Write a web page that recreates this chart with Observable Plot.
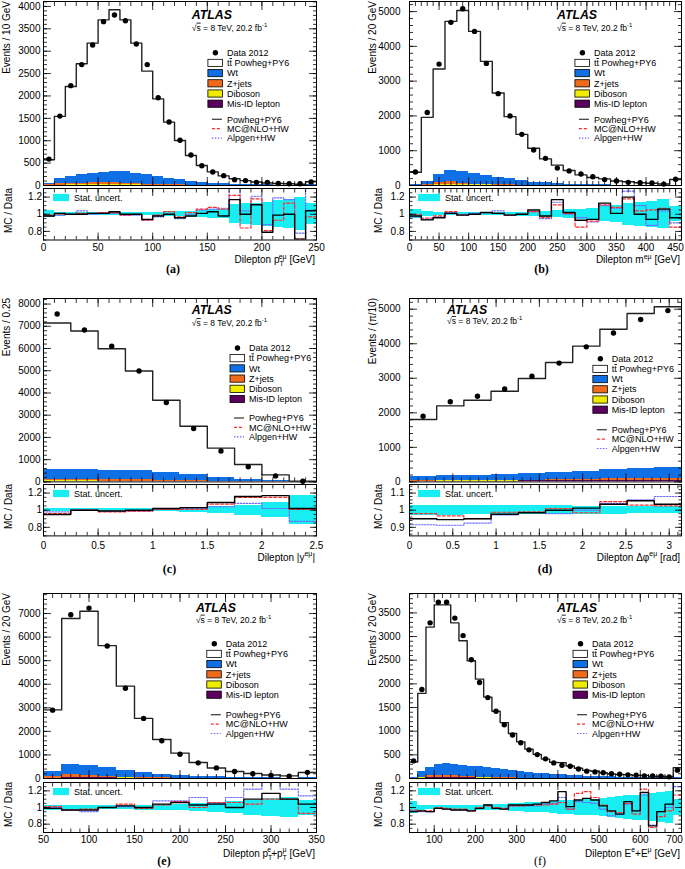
<!DOCTYPE html>
<html><head><meta charset="utf-8">
<script src="https://cdn.jsdelivr.net/npm/d3@7"></script>
<script src="https://cdn.jsdelivr.net/npm/@observablehq/plot@0.6"></script>
<style>
html,body{margin:0;padding:0;background:#fff;}
#root{position:relative;width:685px;height:869px;overflow:hidden;background:#fff;}
</style></head><body><div id="root"></div>
<script>
// ---------- Panel (a): dilepton pT ----------
const aEdges = [0,10,20,30,40,50,60,70,80,90,100,110,120,130,140,150,160,170,180,190,200,210,220,230,240,250];
const aData = [590,1550,2230,2700,3140,3660,3810,3680,3160,2700,1960,1420,1010,680,440,300,220,130,110,70,70,45,40,40,80];
const aMC = [575,1545,2210,2720,3180,3700,3925,3700,3180,2555,1935,1415,1005,670,447,305,215,152,110,78,55,45,40,28,85];
const aWt = [40,115,150,185,210,240,265,260,240,215,185,150,115,90,65,48,36,28,20,15,12,9,7,6,12];
const aZjets = [10,25,35,40,45,45,40,35,25,18,12,8,5,4,3,2,1,1,1,1,0,0,0,0,0];
const aDiboson = [2,4,5,6,6,6,6,5,5,4,4,3,3,2,2,1,1,1,1,1,1,0,0,0,1];
const aMisID = [3,6,8,9,10,10,10,9,8,7,6,5,4,3,2,2,1,1,1,1,0,0,0,0,1];
const aRatioPowheg = [0.98,1.01,1.0,1.0,1.01,1.01,1.03,1.0,1.0,0.94,0.98,1.0,0.96,0.98,1.01,1.03,0.98,1.17,1.0,1.11,0.79,0.99,1.0,0.71,1.04];
const aRatioMCNLO = [0.99,1.0,1.0,1.01,1.01,1.02,1.02,0.99,1.0,0.93,0.99,1.03,0.97,1.02,1.06,1.08,1.06,1.22,0.84,1.18,0.81,0.93,1.13,0.71,0.97];
const aRatioAlpgen = [0.98,0.99,1.0,1.04,1.0,1.02,1.01,0.99,0.99,0.93,0.97,1.0,0.95,1.0,1.05,1.06,1.07,1.3,1.04,1.21,0.88,1.19,1.17,0.78,1.32];
const aStat = [0.04,0.025,0.02,0.02,0.02,0.02,0.02,0.02,0.02,0.02,0.025,0.03,0.03,0.035,0.04,0.05,0.055,0.11,0.12,0.13,0.14,0.16,0.17,0.19,0.12];
const aXTicks = [0,50,100,150,200,250];
const aYTicks = [0,500,1000,1500,2000,2500,3000,3500,4000];

// ---------- Panel (b): dilepton mass ----------
const bEdges = [0,20,40,60,80,100,120,140,160,180,200,220,240,260,280,300,320,340,360,380,400,420,440,460];
const bData = [390,2100,3490,4690,5080,4430,3510,2640,2000,1470,1020,780,500,420,330,250,170,130,90,80,70,40,180];
const bMC = [380,1960,3350,4720,5030,4430,3570,2660,1980,1470,1070,765,585,430,305,230,190,130,108,80,66,42,173];
const bWt = [15,90,250,330,320,300,270,220,170,125,90,65,50,35,25,20,15,10,8,6,5,4,12];
const bZjets = [5,25,60,95,50,25,15,10,8,5,3,2,2,1,1,1,0,0,0,0,0,0,0];
const bDiboson = [1,3,5,6,6,5,5,4,3,3,2,2,1,1,1,1,1,0,0,0,0,0,1];
const bMisID = [2,8,12,14,13,12,10,8,6,5,4,3,2,2,1,1,1,1,0,0,0,0,1];
const bRatioPowheg = [0.98,0.935,0.96,1.01,0.99,1.0,1.02,1.01,0.99,1.0,1.05,0.98,1.17,1.02,0.93,0.94,1.13,1.01,1.2,1.0,0.94,1.06,0.96];
const bRatioMCNLO = [1.0,0.955,0.98,1.03,0.99,1.0,1.02,1.01,0.99,1.0,1.03,0.96,1.11,1.01,0.85,0.92,1.11,1.08,1.18,1.04,1.05,1.07,0.85];
const bRatioAlpgen = [0.97,0.94,0.97,1.02,1.0,1.01,1.02,1.04,0.99,1.0,1.03,0.95,1.14,1.0,0.96,0.91,1.1,1.07,1.27,1.1,0.87,1.04,0.9];
const bStat = [0.05,0.03,0.02,0.02,0.02,0.02,0.02,0.02,0.02,0.025,0.03,0.035,0.04,0.05,0.06,0.07,0.09,0.1,0.13,0.14,0.15,0.17,0.09];
const bXTicks = [0,50,100,150,200,250,300,350,400,450];
const bYTicks = [0,1000,2000,3000,4000,5000];

// ---------- Panel (c): dilepton |y| ----------
const cEdges = [0,0.25,0.5,0.75,1,1.25,1.5,1.75,2,2.25,2.5];
const cData = [7550,6830,6100,4990,3570,2400,1390,680,270,30];
const cMC = [7150,6790,5990,4990,3670,2500,1520,780,315,30];
const cWt = [480,470,440,400,340,280,190,110,50,5];
const cZjets = [45,45,50,55,40,25,15,10,5,0];
const cDiboson = [10,10,9,8,7,5,4,2,1,0];
const cMisID = [35,33,30,27,22,17,11,6,2,0];
const cRatioPowheg = [0.95,1.0,0.99,1.0,1.02,1.03,1.09,1.16,1.17,1.02];
const cRatioMCNLO = [0.96,1.0,0.98,0.99,1.01,1.01,1.07,1.15,1.15,1.01];
const cRatioAlpgen = [0.98,1.0,0.99,0.99,1.01,1.02,1.04,1.08,1.02,0.87];
const cStat = [0.02,0.02,0.02,0.02,0.02,0.025,0.04,0.06,0.09,0.17];
const cXTicks = [0,0.5,1,1.5,2,2.5];
const cYTicks = [0,1000,2000,3000,4000,5000,6000,7000,8000];

// ---------- Panel (d): dilepton delta phi ----------
const dEdges = [0,0.314,0.628,0.942,1.257,1.571,1.885,2.199,2.513,2.827,3.142];
const dData = [1900,2320,2480,2690,3060,3440,3910,4310,4700,4960];
const dMC = [1805,2200,2365,2625,2995,3455,3930,4420,4875,5070];
const dWt = [120,135,145,160,180,205,235,265,295,300];
const dZjets = [15,15,15,18,20,25,30,40,50,55];
const dDiboson = [5,5,6,6,7,8,9,10,11,12];
const dMisID = [20,22,24,25,27,30,32,34,36,38];
const dRatioPowheg = [0.95,0.945,0.95,0.976,0.985,1.0,1.012,1.035,1.055,1.035];
const dRatioMCNLO = [0.98,0.967,0.95,0.988,0.99,1.01,0.985,1.05,1.03,1.025];
const dRatioAlpgen = [0.915,0.912,0.925,0.972,0.985,0.98,1.0,1.04,1.06,1.08];
const dStat = [0.03,0.029,0.028,0.027,0.026,0.025,0.024,0.023,0.022,0.021];
const dXTicks = [0,0.5,1,1.5,2,2.5,3];
const dYTicks = [0,1000,2000,3000,4000,5000];

// ---------- Panel (e): pT(e)+pT(mu) ----------
const eEdges = [50,70,90,110,130,150,170,190,210,230,250,270,290,310,330,350];
const eData = [2900,6950,7230,5620,3830,2550,1600,1030,665,450,300,200,130,100,260];
const eMC = [2910,6790,7100,5640,3920,2550,1655,1075,680,445,295,215,150,110,255];
const eWt = [180,410,430,390,300,225,160,125,90,62,42,30,22,15,25];
const eZjets = [80,150,90,45,25,12,8,5,3,2,1,1,0,0,0];
const eDiboson = [5,10,10,8,6,5,4,3,2,2,1,1,1,0,1];
const eMisID = [15,30,30,25,20,14,10,7,4,3,2,1,1,1,2];
const eRatioPowheg = [0.99,0.97,0.97,1.0,1.02,1.0,1.04,1.06,1.03,1.04,1.0,1.1,1.17,1.1,1.04];
const eRatioMCNLO = [1.01,0.97,0.98,1.0,1.04,0.99,1.03,1.07,1.0,1.06,1.06,1.04,1.1,1.1,0.93];
const eRatioAlpgen = [1.0,0.97,0.95,1.0,1.01,1.0,1.08,1.08,1.12,1.05,1.12,1.22,1.31,1.22,1.14];
const eStat = [0.03,0.02,0.02,0.02,0.025,0.03,0.035,0.04,0.05,0.06,0.07,0.09,0.11,0.12,0.09];
const eXTicks = [50,100,150,200,250,300,350];
const eYTicks = [0,1000,2000,3000,4000,5000,6000,7000];

// ---------- Panel (f): E(e)+E(mu) ----------
const fEdges = [40,60,80,100,120,140,160,180,200,220,240,260,280,300,320,340,360,380,400,420,440,460,480,500,520,540,560,580,600,620,640,660,680,700];
const fData = [373,1880,3290,3725,3725,3390,3020,2510,2030,1710,1420,1135,920,755,605,505,415,330,280,260,200,155,140,120,100,90,77,70,56,56,50,35,176];
const fMC = [350,1800,3200,3670,3670,3290,2910,2490,2100,1720,1420,1180,950,775,620,510,410,340,335,263,218,172,153,122,96,83,82,67,66,44,47,36,229];
const fWt = [9,129,177,228,242,240,236,222,217,201,186,168,150,132,119,107,93,81,74,67,57,47,43,38,33,29,25,22,20,18,15,12,18];
const fZjets = [3,15,35,45,45,35,28,22,16,12,9,7,5,4,3,2,2,1,1,1,1,1,0,0,0,0,0,0,0,0,0,0,0];
const fDiboson = [1,3,5,6,6,6,5,5,4,4,3,3,3,2,2,2,2,1,1,1,1,1,1,1,1,1,0,0,0,0,0,0,1];
const fMisID = [2,8,15,17,17,15,13,11,9,8,6,5,4,3,3,2,2,2,1,1,1,1,1,1,1,0,0,0,0,0,0,0,1];
const fRatioPowheg = [0.95,0.96,0.95,0.99,0.98,0.97,0.97,0.96,0.99,1.03,0.99,0.98,1.03,1.03,1.03,1.04,1.06,1.08,1.19,1.01,1.09,1.11,1.09,1.02,0.96,0.92,1.07,0.96,1.18,0.78,0.95,1.04,1.32];
const fRatioMCNLO = [0.97,0.96,0.96,1.0,0.99,0.98,0.98,0.96,1.0,1.02,1.0,0.99,1.02,1.02,1.03,1.03,1.03,1.04,1.06,0.98,1.17,1.19,1.12,1.03,0.95,0.94,1.05,0.92,1.22,0.76,0.89,0.96,1.15];
const fRatioAlpgen = [0.96,0.95,0.95,0.99,0.98,0.97,0.97,0.96,0.99,1.03,0.99,0.98,1.02,1.02,1.02,1.02,1.04,1.05,1.12,0.98,1.07,1.06,1.05,0.98,0.9,0.92,1.04,0.96,1.15,0.79,0.95,1.0,1.25];
const fStat = [0.07,0.03,0.02,0.02,0.02,0.025,0.025,0.03,0.03,0.035,0.04,0.04,0.045,0.05,0.055,0.06,0.065,0.07,0.08,0.085,0.09,0.1,0.1,0.11,0.12,0.13,0.14,0.15,0.16,0.17,0.18,0.19,0.1];
const fXTicks = [100,200,300,400,500,600,700];
const fYTicks = [0,500,1000,1500,2000,2500,3000,3500];

const ratioTicks = [0.8,1,1.2];
const ratioTicksD = [0.9,1,1.1];

const procNames = ["Mis-ID lepton","Diboson","Z+jets","Wt"];
const procColors = ["#5b005f","#f0ec00","#f06a1c","#0f70e6"];
const legendEntries = ["Data 2012","tt Powheg+PY6","Wt","Z+jets","Diboson","Mis-ID lepton"];
const lineEntries = ["Powheg+PY6","MC@NLO+HW","Alpgen+HW"];

// ---------- style ----------
const FONT = "'Liberation Sans', Arial, Helvetica, sans-serif";
const SERIF = "'Liberation Serif', 'Times New Roman', serif";
const CYAN = "#18eef2", RED = "#ff2a2a", BLUE = "#6a6aff";
const fmt = d => d3.format("~g")(d);

const cols = [
  {svgLeft: 0, svgWidth: 343, fl: 43, fr: 316, mainPad: 3, ratioPad: 1.5, yTitleX: 10, rTitleX: 11.5, statBoxX: 10, statBoxW: 16, statTextX: 31},
  {svgLeft: 343, svgWidth: 342, fl: 409, fr: 681, mainPad: 9, ratioPad: 5, yTitleX: 376, rTitleX: 381.5, statBoxX: 9, statBoxW: 22, statTextX: 36}
];
const rows = [
  {mt: 1, mb: 185, rt: 188, rb: 239.5, xPad: 4, titleOff: 23.5, capOff: 33},
  {mt: 298.3, mb: 481.7, rt: 484.3, rb: 535.7, xPad: 5.5, titleOff: 25.5, capOff: 38},
  {mt: 593.3, mb: 778.3, rt: 781.7, rb: 831.7, xPad: 3.5, titleOff: 24.5, capOff: 33.3}
];

const panels = [
  {col:0,row:0,edges:aEdges,data:aData,mc:aMC,wt:aWt,zj:aZjets,dib:aDiboson,mis:aMisID,rPow:aRatioPowheg,rNlo:aRatioMCNLO,rAlp:aRatioAlpgen,stat:aStat,
   xDomain:[0,250],yMax:4110,yTicks:aYTicks,yMinor:100,xTicks:aXTicks,xMinor:10,rDomain:[0.7,1.3],rTicks:ratioTicks,rMinor:0.05,lastDx:0,
   yTitle:"Events / 10 GeV",xTitle:[["Dilepton p"],["T","sub"],["eμ","sup",-4.3],[" [GeV]"]],cap:"(a)",capX:173,capBold:true,
   leg:{atlasX:0.545,atlasY:14,sqrtY:26.7,legX:0.604,legY:51.7,linY:118.3}},
  {col:1,row:0,edges:bEdges,data:bData,mc:bMC,wt:bWt,zj:bZjets,dib:bDiboson,mis:bMisID,rPow:bRatioPowheg,rNlo:bRatioMCNLO,rAlp:bRatioAlpgen,stat:bStat,
   xDomain:[0,460],yMax:5290,yTicks:bYTicks,yMinor:200,xTicks:bXTicks,xMinor:10,rDomain:[0.7,1.3],rTicks:ratioTicks,rMinor:0.05,lastDx:0,
   yTitle:"Events / 20 GeV",xTitle:[["Dilepton m"],["eμ","sup"],[" [GeV]"]],cap:"(b)",capX:541.5,capBold:true,
   leg:{atlasX:0.544,atlasY:13.3,sqrtY:26.7,legX:0.61,legY:51.7,linY:118.3}},
  {col:0,row:1,edges:cEdges,data:cData,mc:cMC,wt:cWt,zj:cZjets,dib:cDiboson,mis:cMisID,rPow:cRatioPowheg,rNlo:cRatioMCNLO,rAlp:cRatioAlpgen,stat:cStat,
   xDomain:[0,2.5],yMax:8250,yTicks:cYTicks,yMinor:200,xTicks:cXTicks,xMinor:0.1,rDomain:[0.7,1.3],rTicks:ratioTicks,rMinor:0.05,lastDx:0,
   yTitle:"Events / 0.25",xTitle:[["Dilepton |y"],["eμ","sup"],["|"]],cap:"(c)",capX:169.5,capBold:true,
   leg:{atlasX:0.545,atlasY:11.7,sqrtY:25,legX:0.685,legY:50,linY:120}},
  {col:1,row:1,edges:dEdges,data:dData,mc:dMC,wt:dWt,zj:dZjets,dib:dDiboson,mis:dMisID,rPow:dRatioPowheg,rNlo:dRatioMCNLO,rAlp:dRatioAlpgen,stat:dStat,
   xDomain:[0,3.1416],yMax:5310,yTicks:dYTicks,yMinor:200,xTicks:dXTicks,xMinor:0.1,rDomain:[0.85,1.15],rTicks:ratioTicksD,rMinor:0.02,lastDx:0,
   yTitle:"Events / (π/10)",xTitle:[["Dilepton Δφ"],["eμ","sup"],[" [rad]"]],cap:"(d)",capX:545,capBold:true,
   leg:{atlasX:0.14,atlasY:11.7,sqrtY:23,legX:0.676,legY:60.7,linY:131.7}},
  {col:0,row:2,edges:eEdges,data:eData,mc:eMC,wt:eWt,zj:eZjets,dib:eDiboson,mis:eMisID,rPow:eRatioPowheg,rNlo:eRatioMCNLO,rAlp:eRatioAlpgen,stat:eStat,
   xDomain:[50,350],yMax:7850,yTicks:eYTicks,yMinor:200,xTicks:eXTicks,xMinor:10,rDomain:[0.7,1.3],rTicks:ratioTicks,rMinor:0.05,lastDx:0,
   yTitle:"Events / 20 GeV",xTitle:[["Dilepton p"],["T","sub"],["e","sup",-4.3],["+p"],["T","sub"],["μ","sup",-4.3],[" [GeV]"]],cap:"(e)",capX:164,capBold:true,
   leg:{atlasX:0.56,atlasY:14.3,sqrtY:26.7,legX:0.60,legY:50.7,linY:121.7}},
  {col:1,row:2,edges:fEdges,data:fData,mc:fMC,wt:fWt,zj:fZjets,dib:fDiboson,mis:fMisID,rPow:fRatioPowheg,rNlo:fRatioMCNLO,rAlp:fRatioAlpgen,stat:fStat,
   xDomain:[40,700],yMax:3910,yTicks:fYTicks,yMinor:100,xTicks:fXTicks,xMinor:20,rDomain:[0.7,1.3],rTicks:ratioTicks,rMinor:0.05,lastDx:-7,
   yTitle:"Events / 20 GeV",xTitle:[["Dilepton E"],["e","sup"],["+E"],["μ","sup"],[" [GeV]"]],cap:"(f)",capX:540,capBold:false,
   leg:{atlasX:0.544,atlasY:14.3,sqrtY:26.7,legX:0.603,legY:50.7,linY:121.7}}
];

const root = document.getElementById("root");

function minorTicks(lo, hi, step) {
  const start = Math.ceil(lo / step - 1e-9);
  const end = Math.floor(hi / step + 1e-9);
  return d3.range(start, end + 1).map(i => +(i * step).toFixed(6));
}
function steps(edges, vals) {
  const r = vals.map((v, i) => ({x: edges[i], v}));
  r.push({x: edges[edges.length - 1], v: vals[vals.length - 1]});
  return r;
}
function tickMarks(dim, major, minor, Lmaj, Lmin) {
  const A = dim === "x" ? Plot.axisX : Plot.axisY;
  const anchors = dim === "x" ? ["bottom", "top"] : ["left", "right"];
  const out = [];
  for (const an of anchors) {
    out.push(A({ticks: major, anchor: an, tickSize: -Lmaj, tickFormat: () => "", label: null, strokeWidth: 0.8}));
    out.push(A({ticks: minor, anchor: an, tickSize: -Lmin, tickFormat: () => "", label: null, strokeWidth: 0.8}));
  }
  return out;
}
function place(svg, left, top) {
  svg.style.position = "absolute";
  svg.style.left = left + "px";
  svg.style.top = top + "px";
  svg.style.overflow = "visible";
  svg.style.background = "transparent";
  svg.style.maxWidth = "none";
  svg.style.fontFamily = FONT;
  root.appendChild(svg);
}
function richText(sel, segs, fs) {
  let cur = 0;
  for (const [t, kind, dx] of segs) {
    const target = kind === "sub" ? 3 : kind === "sup" ? -4.5 : 0;
    const ts = sel.append("tspan").attr("dy", target - cur).text(t);
    if (kind) ts.attr("font-size", fs * 0.7);
    if (dx) ts.attr("dx", dx);
    cur = target;
  }
}

function makeMain(p) {
  const col = cols[p.col], row = rows[p.row];
  const ml = col.fl - col.svgLeft, mr = col.svgLeft + col.svgWidth - col.fr;
  const mt = 10, mbm = 2;
  const h = row.mb - row.mt + mt + mbm;
  const stack = [];
  [p.mis, p.dib, p.zj, p.wt].forEach((arr, k) => arr.forEach((v, i) =>
    stack.push({x1: p.edges[i], x2: p.edges[i + 1], v, proc: procNames[k]})));
  const pts = p.data.map((v, i) => ({x: (p.edges[i] + p.edges[i + 1]) / 2, v}));
  const svg = Plot.plot({
    width: col.svgWidth, height: h,
    marginLeft: ml, marginRight: mr, marginTop: mt, marginBottom: mbm,
    x: {domain: p.xDomain},
    y: {domain: [0, p.yMax]},
    color: {domain: procNames, range: procColors},
    marks: [
      Plot.rectY(stack, {x1: "x1", x2: "x2", y: "v", fill: "proc", clip: true, shapeRendering: "crispEdges"}),
      Plot.line(steps(p.edges, p.mc), {x: "x", y: "v", curve: "step-after", stroke: "#222", strokeWidth: 1.4, clip: true}),
      Plot.dot(pts, {x: "x", y: "v", r: 2.7, fill: "#000", stroke: "none"}),
      ...tickMarks("x", p.xTicks, minorTicks(p.xDomain[0], p.xDomain[1], p.xMinor), 8, 4),
      ...tickMarks("y", p.yTicks, minorTicks(0, p.yMax, p.yMinor), 8, 4),
      Plot.axisY({ticks: p.yTicks, anchor: "left", tickSize: 0, tickPadding: col.mainPad, tickFormat: fmt, label: null, fontSize: 10}),
      Plot.frame({stroke: "#000", strokeWidth: 1})
    ]
  });
  place(svg, col.svgLeft, row.mt - mt);
  const s = d3.select(svg);
  const fx0 = ml, fw = col.svgWidth - ml - mr, fy0 = mt;
  const g = s.append("g").attr("font-family", FONT).attr("fill", "#000");
  g.append("text").attr("transform", `translate(${col.yTitleX - col.svgLeft},${fy0}) rotate(-90)`)
    .attr("text-anchor", "end").attr("font-size", 10).text(p.yTitle);
  const L = p.leg;
  const ax = fx0 + L.atlasX * fw;
  g.append("text").attr("x", ax).attr("y", fy0 + L.atlasY + 4.3).attr("text-anchor", "start")
    .attr("font-size", 12.3).attr("font-weight", "bold").attr("font-style", "italic").text("ATLAS");
  const sq = g.append("text").attr("x", ax).attr("y", fy0 + L.sqrtY + 3).attr("text-anchor", "start").attr("font-size", 8.5);
  sq.append("tspan").text("√");
  sq.append("tspan").attr("text-decoration", "overline").style("text-decoration", "overline").text("s");
  sq.append("tspan").text(" = 8 TeV, 20.2 fb");
  sq.append("tspan").attr("dy", -3.5).attr("font-size", 6).text("-1");
  const sx = fx0 + L.legX * fw;
  const boxFills = ["#ffffff", procColors[3], procColors[2], procColors[1], procColors[0]];
  legendEntries.forEach((name, i) => {
    const cy = fy0 + L.legY + i * 10.2;
    if (i === 0) {
      g.append("circle").attr("cx", sx + 7.5).attr("cy", cy).attr("r", 2.7).attr("fill", "#000");
    } else {
      g.append("rect").attr("x", sx).attr("y", cy - 3.6).attr("width", 14.5).attr("height", 7.2)
        .attr("fill", boxFills[i - 1]).attr("stroke", "#000").attr("stroke-width", 0.8);
    }
    const t = g.append("text").attr("x", sx + 19).attr("y", cy + 3.2).attr("text-anchor", "start").attr("font-size", 9);
    if (i === 1) {
      t.append("tspan").text("t");
      t.append("tspan").attr("text-decoration", "overline").style("text-decoration", "overline").text("t");
      t.append("tspan").text(" Powheg+PY6");
    } else t.text(name);
  });
  const lineStyles = [["#444", null, 1.3], [RED, "3,2", 1.2], [BLUE, "1.5,1.5", 1.2]];
  lineEntries.forEach((name, i) => {
    const cy = fy0 + L.linY + i * 9.4;
    const [c, dash, w] = lineStyles[i];
    const ln = g.append("line").attr("x1", sx + 4).attr("x2", sx + 14).attr("y1", cy).attr("y2", cy)
      .attr("stroke", c).attr("stroke-width", w);
    if (dash) ln.attr("stroke-dasharray", dash);
    g.append("text").attr("x", sx + 19).attr("y", cy + 3.2).attr("text-anchor", "start").attr("font-size", 9).text(name);
  });
}

function makeRatio(p) {
  const col = cols[p.col], row = rows[p.row];
  const ml = col.fl - col.svgLeft, mr = col.svgLeft + col.svgWidth - col.fr;
  const mt = 3, mbm = 40;
  const h = row.rb - row.rt + mt + mbm;
  const band = p.stat.map((s, i) => ({x1: p.edges[i], x2: p.edges[i + 1], y1: 1 - s, y2: 1 + s}));
  const lastTick = p.xTicks[p.xTicks.length - 1];
  const labelAxes = p.lastDx
    ? [Plot.axisX({ticks: p.xTicks.slice(0, -1), anchor: "bottom", tickSize: 0, tickPadding: row.xPad, tickFormat: fmt, label: null, fontSize: 10}),
       Plot.axisX({ticks: [lastTick], anchor: "bottom", tickSize: 0, tickPadding: row.xPad, tickFormat: fmt, label: null, fontSize: 10, dx: p.lastDx})]
    : [Plot.axisX({ticks: p.xTicks, anchor: "bottom", tickSize: 0, tickPadding: row.xPad, tickFormat: fmt, label: null, fontSize: 10})];
  const svg = Plot.plot({
    width: col.svgWidth, height: h,
    marginLeft: ml, marginRight: mr, marginTop: mt, marginBottom: mbm,
    x: {domain: p.xDomain},
    y: {domain: p.rDomain},
    marks: [
      Plot.rect(band, {x1: "x1", x2: "x2", y1: "y1", y2: "y2", fill: CYAN, clip: true, shapeRendering: "crispEdges"}),
      Plot.line(steps(p.edges, p.rAlp), {x: "x", y: "v", curve: "step-after", stroke: BLUE, strokeWidth: 1.2, strokeDasharray: "1.5,1.5", clip: true}),
      Plot.line(steps(p.edges, p.rNlo), {x: "x", y: "v", curve: "step-after", stroke: RED, strokeWidth: 1.2, strokeDasharray: "3,2", clip: true}),
      Plot.line(steps(p.edges, p.rPow), {x: "x", y: "v", curve: "step-after", stroke: "#000", strokeWidth: 1.4, clip: true}),
      ...tickMarks("x", p.xTicks, minorTicks(p.xDomain[0], p.xDomain[1], p.xMinor), 7, 3.5),
      ...tickMarks("y", p.rTicks, minorTicks(p.rDomain[0], p.rDomain[1], p.rMinor), 7, 3.5),
      Plot.axisY({ticks: p.rTicks, anchor: "left", tickSize: 0, tickPadding: col.ratioPad, tickFormat: fmt, label: null, fontSize: 10}),
      ...labelAxes,
      Plot.frame({stroke: "#000", strokeWidth: 1})
    ]
  });
  place(svg, col.svgLeft, row.rt - mt);
  const s = d3.select(svg);
  const fx0 = ml, fx1 = col.svgWidth - mr, fy0 = mt, fy1 = h - mbm;
  const g = s.append("g").attr("font-family", FONT).attr("fill", "#000");
  g.append("text").attr("transform", `translate(${col.rTitleX - col.svgLeft},${fy0}) rotate(-90)`)
    .attr("text-anchor", "end").attr("font-size", 10).text("MC / Data");
  const cy = fy0 + 9.5;
  g.append("rect").attr("x", fx0 + col.statBoxX).attr("y", cy - 3.6).attr("width", col.statBoxW).attr("height", 7.2).attr("fill", CYAN);
  g.append("text").attr("x", fx0 + col.statTextX).attr("y", cy + 3.2).attr("text-anchor", "start").attr("font-size", 9).text("Stat. uncert.");
  const xt = g.append("text").attr("x", fx1 - 1).attr("y", fy1 + row.titleOff).attr("text-anchor", "end").attr("font-size", 10);
  richText(xt, p.xTitle, 10);
  g.append("text").attr("x", p.capX - col.svgLeft).attr("y", fy1 + row.capOff).attr("text-anchor", "middle")
    .attr("font-family", SERIF).attr("font-size", 12).attr("font-weight", p.capBold ? "bold" : "normal").text(p.cap);
}

for (const p of panels) { makeMain(p); makeRatio(p); }
</script></body></html>
